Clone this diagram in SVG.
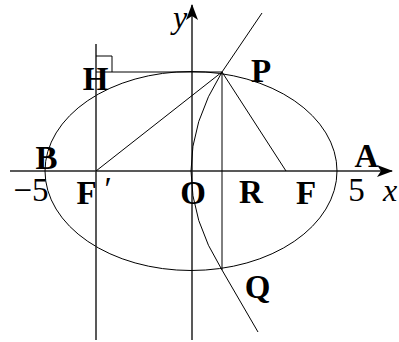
<svg xmlns="http://www.w3.org/2000/svg" width="399" height="342" viewBox="0 0 399 342">
<style>
.ln{fill:none;stroke:#000;stroke-width:1}
.ax{fill:none;stroke:#222;stroke-width:1.5}
.lb{font-family:"Liberation Serif","Times New Roman",serif;font-size:33px;font-weight:bold;fill:#000;text-anchor:middle}
.nm{font-family:"Liberation Serif","Times New Roman",serif;font-size:33px;fill:#000;text-anchor:middle}
.it{font-family:"Liberation Serif","Times New Roman",serif;font-size:32px;font-style:italic;fill:#000;text-anchor:middle}
</style>
<defs>
<marker id="arr" viewBox="0 0 16 12" refX="15" refY="6" markerWidth="16" markerHeight="12" markerUnits="userSpaceOnUse" orient="auto">
<path d="M0,0 L16,6 L0,12 L4,6 Z" fill="#000"/>
</marker>
</defs>
<g id="connectors">
<line class="ax" x1="10" y1="171" x2="392" y2="171" marker-end="url(#arr)"/>
<line class="ax" x1="192" y1="340" x2="192" y2="5" marker-end="url(#arr)"/>
<ellipse class="ln" cx="191" cy="171" rx="146" ry="99.5"/>
<line class="ax" x1="96" y1="44" x2="96" y2="340"/>
<line class="ln" x1="96" y1="72" x2="222" y2="72"/>
<path class="ln" d="M96,56 H112 V72"/>
<line class="ln" x1="96" y1="171" x2="222" y2="72"/>
<line class="ln" x1="222" y1="72" x2="286" y2="171"/>
<line class="ln" x1="222" y1="72" x2="222" y2="270"/>
<path class="ln" d="M262,13 L222,72 Q160,171 222,270 L258,332"/>
</g>
<g id="label-H"><text class="lb" x="95.5" y="90">H</text></g>
<g id="label-P"><text class="lb" x="261" y="82">P</text></g>
<g id="label-B"><text class="lb" x="46.5" y="169">B</text></g>
<g id="label-A"><text class="lb" x="366.5" y="167">A</text></g>
<g id="label-minus5"><text class="nm" x="31" y="201">−5</text></g>
<g id="label-F1"><text class="lb" x="86.5" y="204">F</text><text class="nm" x="108" y="200">′</text></g>
<g id="label-O"><text class="lb" x="193" y="204">O</text></g>
<g id="label-R"><text class="lb" x="251" y="203">R</text></g>
<g id="label-F"><text class="lb" x="306" y="204">F</text></g>
<g id="label-5"><text class="nm" x="356.5" y="201">5</text></g>
<g id="label-x"><text class="it" x="390" y="201">x</text></g>
<g id="label-y"><text class="it" x="180" y="28">y</text></g>
<g id="label-Q"><text class="lb" x="257.5" y="298">Q</text></g>
</svg>
